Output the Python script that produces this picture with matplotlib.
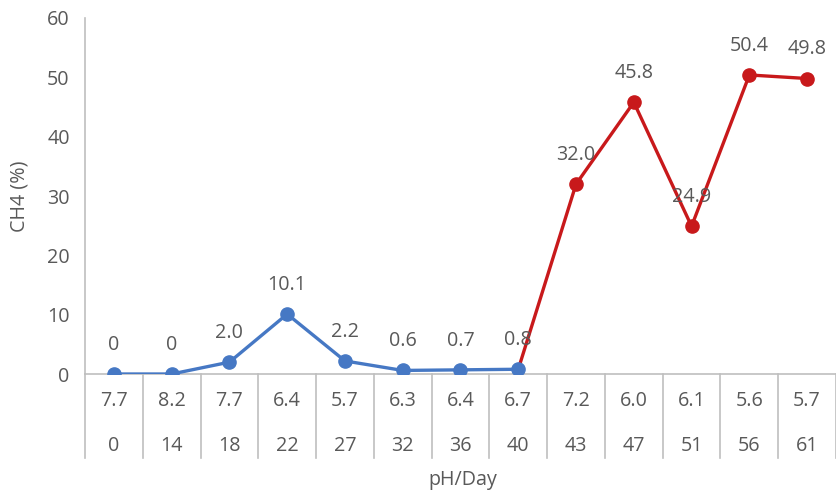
import matplotlib
matplotlib.use("Agg")
import matplotlib.pyplot as plt
from matplotlib.transforms import blended_transform_factory

# Methane content over the digestion run, with pH and day for each sample
ph_labels = ["7.7", "8.2", "7.7", "6.4", "5.7", "6.3", "6.4", "6.7", "7.2", "6.0", "6.1", "5.6", "5.7"]
day_labels = ["0", "14", "18", "22", "27", "32", "36", "40", "43", "47", "51", "56", "61"]
ch4_values = [0, 0, 2.0, 10.1, 2.2, 0.6, 0.7, 0.8, 32.0, 45.8, 24.9, 50.4, 49.8]
ch4_labels = ["0", "0", "2.0", "10.1", "2.2", "0.6", "0.7", "0.8", "32.0", "45.8", "24.9", "50.4", "49.8"]
split_index = 7  # last sample of the first (blue) phase

plt.rcParams["font.family"] = ["Open Sans", "DejaVu Sans"]
TXT = "#595959"
GRID = "#bfbfbf"
BLUE = "#4678c4"
RED = "#c8191b"
FS = 14.2

fig = plt.figure(figsize=(8.37, 4.93), dpi=100)
W, H = 837, 493
left, right, top, bottom = 85, 836, 18, 374
ax = fig.add_axes([left / W, (H - bottom) / H, (right - left) / W, (bottom - top) / H])

x = list(range(len(ch4_values)))
n = len(x)

# second phase drawn first so the blue marker at the junction stays on top
ax.plot(x[split_index:], ch4_values[split_index:], color=RED, lw=2.4, zorder=3)
ax.plot(x[split_index + 1:], ch4_values[split_index + 1:], "o", color=RED, ms=9.5, zorder=4)
ax.plot(x[:split_index + 1], ch4_values[:split_index + 1], color=BLUE, lw=2.4,
        marker="o", ms=9.5, zorder=5)

for xi, v, s in zip(x, ch4_values, ch4_labels):
    ax.annotate(s, (xi, v), xytext=(0, 21), textcoords="offset points",
                ha="center", va="center", fontsize=FS, color=TXT, zorder=6)

ax.set_xlim(-0.5, n - 0.5)
ax.set_ylim(0, 60)
ax.set_yticks(range(0, 61, 10))
ax.tick_params(axis="y", length=0, pad=11, labelsize=FS, labelcolor=TXT)
ax.set_xticks([])
for side in ("top", "right"):
    ax.spines[side].set_visible(False)
for side in ("left", "bottom"):
    ax.spines[side].set_color(GRID)
    ax.spines[side].set_linewidth(1.2)

ax.set_ylabel("CH4 (%)", fontsize=FS, color=TXT, labelpad=13)

# two-row category table under the axis
tr = blended_transform_factory(ax.transData, ax.transAxes)
span = bottom - top
row_bottom = -(458 - bottom) / span
ph_y = -(401 - bottom) / span
day_y = -(446 - bottom) / span
for k in range(n + 1):
    ax.plot([k - 0.5, k - 0.5], [0, row_bottom], transform=tr, color=GRID,
            lw=1.2, clip_on=False)
for xi in x:
    ax.text(xi, ph_y, ph_labels[xi], transform=tr, ha="center", va="center",
            fontsize=FS, color=TXT)
    ax.text(xi, day_y, day_labels[xi], transform=tr, ha="center", va="center",
            fontsize=FS, color=TXT)

ax.text(0.503, -(480 - bottom) / span, "pH/Day", transform=ax.transAxes,
        ha="center", va="center", fontsize=FS, color=TXT)

fig.savefig("out.png", dpi=100)
